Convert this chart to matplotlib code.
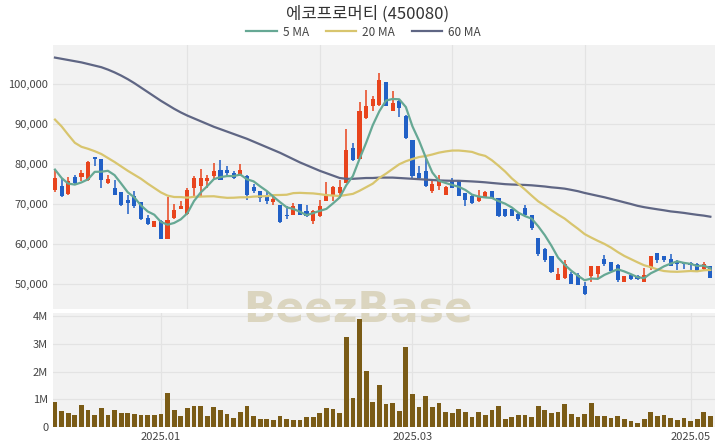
import numpy as np
import pandas as pd
import matplotlib
matplotlib.use("Agg")
import matplotlib.pyplot as plt
from matplotlib.lines import Line2D

plt.rcParams['font.family'] = ['Noto Sans CJK KR', 'DejaVu Sans']

title = "에코프로머티 (450080)"

# OHLC in thousands of won, one row per trading day (2024-12-06 .. 2025-05-08)
opens = [73.5, 74.4, 72.6, 76.7, 76.7, 76.1, 81.7, 81.2, 75.2, 74.0,
         72.9, 71.1, 71.9, 70.4, 66.5, 64.3, 65.7, 61.3, 66.5, 68.8,
         67.6, 74.0, 74.4, 75.7, 76.9, 78.6, 78.6, 77.8, 77.3, 77.1,
         74.2, 73.2, 72.3, 70.4, 69.7, 67.3, 67.3, 70.1, 68.2, 65.7,
         67.1, 70.7, 72.3, 72.7, 75.2, 84.0, 81.3, 91.5, 94.6, 94.8,
         100.4, 93.2, 95.7, 91.9, 86.1, 77.8, 78.2, 73.2, 74.4, 72.3,
         76.1, 75.7, 72.8, 71.9, 70.7, 71.8, 73.2, 71.5, 68.7, 68.7,
         67.5, 68.9, 67.3, 61.6, 58.7, 56.9, 50.9, 51.4, 52.5, 52.2,
         49.4, 51.9, 52.5, 56.2, 55.4, 54.7, 50.6, 52.2, 52.1, 50.6,
         53.9, 57.7, 56.9, 56.2, 55.6, 55.6, 55.2, 55.0, 53.7, 54.6]
highs = [78.7, 76.5, 76.7, 77.3, 78.6, 80.7, 81.8, 81.3, 77.3, 75.9,
         72.9, 72.3, 73.2, 70.4, 67.3, 65.7, 66.1, 71.8, 70.1, 70.7,
         74.0, 77.1, 78.8, 77.3, 80.3, 81.1, 79.4, 78.2, 80.1, 77.3,
         74.9, 73.2, 72.9, 71.8, 69.7, 69.4, 70.3, 70.1, 69.8, 68.6,
         71.1, 75.5, 74.4, 75.9, 88.7, 85.3, 95.4, 98.4, 97.1, 102.7,
         100.4, 98.2, 96.1, 92.3, 86.1, 79.4, 81.3, 75.7, 77.3, 74.4,
         76.5, 76.1, 72.8, 72.3, 73.6, 73.2, 73.2, 71.5, 68.8, 68.7,
         67.9, 69.7, 67.3, 61.6, 59.1, 56.9, 54.1, 56.1, 52.9, 52.7,
         50.6, 54.6, 54.6, 57.2, 55.4, 55.0, 51.9, 52.5, 52.2, 54.1,
         56.9, 57.7, 56.9, 57.5, 55.9, 55.6, 55.4, 55.2, 55.6, 54.6]
lows = [73.0, 71.8, 72.3, 75.0, 75.7, 75.7, 79.4, 74.0, 75.0, 72.3,
        69.4, 67.6, 69.0, 65.9, 64.7, 64.3, 61.3, 61.3, 66.3, 68.8,
        67.3, 71.9, 71.9, 74.0, 75.9, 75.9, 76.9, 76.3, 77.1, 70.9,
        72.7, 70.4, 70.1, 69.8, 65.3, 66.3, 67.3, 67.3, 66.7, 64.9,
        66.7, 70.7, 70.7, 71.5, 75.2, 80.7, 81.3, 91.3, 93.2, 94.4,
        94.4, 93.2, 91.7, 86.2, 76.5, 76.1, 74.3, 72.8, 73.6, 72.3,
        74.0, 72.1, 69.6, 70.1, 70.4, 71.5, 71.5, 66.7, 66.8, 67.0,
        65.8, 66.7, 63.6, 57.1, 55.4, 52.7, 50.9, 51.2, 50.0, 49.7,
        47.2, 50.6, 51.2, 54.6, 53.3, 50.6, 50.6, 51.1, 50.9, 50.6,
        53.6, 55.2, 55.6, 54.4, 53.6, 53.7, 53.1, 53.1, 53.3, 51.6]
closes = [76.5, 71.9, 75.7, 75.2, 77.7, 80.4, 81.2, 75.9, 76.3, 72.3,
          69.8, 70.3, 69.4, 66.3, 64.9, 65.7, 61.3, 65.9, 68.5, 69.4,
          73.4, 76.5, 76.5, 76.5, 78.2, 75.9, 77.8, 76.5, 78.4, 72.3,
          73.3, 71.5, 70.7, 71.3, 65.5, 66.9, 69.4, 67.3, 66.9, 68.2,
          69.6, 71.9, 74.2, 74.2, 83.6, 81.1, 93.2, 94.4, 96.2, 101.1,
          94.4, 95.2, 94.0, 86.5, 76.9, 76.5, 74.4, 75.1, 76.1, 74.2,
          74.0, 72.1, 71.1, 70.3, 71.8, 72.9, 71.5, 67.1, 67.1, 67.1,
          66.3, 67.3, 63.9, 57.5, 55.9, 53.1, 52.5, 55.0, 50.0, 49.7,
          47.5, 54.6, 54.6, 55.0, 53.3, 50.9, 51.9, 51.2, 51.2, 52.2,
          56.9, 55.9, 55.9, 54.6, 55.0, 55.0, 54.7, 53.3, 55.0, 51.6]
# volume in millions of shares
volumes = [0.89, 0.59, 0.52, 0.43, 0.78, 0.60, 0.45, 0.68, 0.43, 0.61,
           0.49, 0.49, 0.46, 0.43, 0.43, 0.43, 0.46, 1.23, 0.62, 0.40,
           0.70, 0.77, 0.77, 0.41, 0.73, 0.62, 0.48, 0.34, 0.55, 0.76,
           0.38, 0.30, 0.30, 0.27, 0.38, 0.30, 0.27, 0.26, 0.37, 0.37,
           0.51, 0.70, 0.65, 0.50, 3.24, 1.04, 3.91, 2.01, 0.91, 1.52,
           0.83, 0.88, 0.57, 2.87, 1.20, 0.71, 1.10, 0.71, 0.88, 0.54,
           0.52, 0.65, 0.55, 0.37, 0.54, 0.43, 0.61, 0.76, 0.29, 0.37,
           0.43, 0.44, 0.37, 0.76, 0.61, 0.52, 0.54, 0.83, 0.48, 0.37,
           0.48, 0.85, 0.39, 0.39, 0.32, 0.39, 0.28, 0.20, 0.15, 0.30,
           0.55, 0.41, 0.43, 0.34, 0.24, 0.32, 0.23, 0.29, 0.54, 0.39]

# moving-average values before enough days are on the chart
ma5_head = [78.6, 76.5, 75.1, 74.85]
ma20_head = [91.1, 89.4, 87.3, 85.3, 84.3, 83.8, 83.2, 82.5, 81.5, 80.5,
             79.4, 78.3, 77.3, 76.3, 75.1, 74.0, 72.9, 72.1, 71.75]
ma60_head = [106.6, 106.3, 106.0, 105.7, 105.4, 105.0, 104.6, 104.2, 103.6, 102.9,
             102.1, 101.2, 100.2, 99.1, 98.0, 96.9, 95.8, 94.8, 93.8, 92.9,
             92.1, 91.4, 90.7, 90.0, 89.3, 88.7, 88.1, 87.5, 86.9, 86.3,
             85.6, 84.9, 84.2, 83.5, 82.8, 82.0, 81.2, 80.4, 79.7, 79.0,
             78.3, 77.7, 77.1, 76.5, 76.3, 76.3, 76.4, 76.5, 76.5, 76.6,
             76.6, 76.6, 76.5, 76.4, 76.3, 76.2, 76.1, 76.0, 75.9]

tick_pos = [16, 54, 96]
tick_labels = ["2025.01", "2025.03", "2025.05"]

df = pd.DataFrame({"open": opens, "high": highs, "low": lows, "close": closes})
df[["open", "high", "low", "close"]] *= 1000
df["volume"] = np.array(volumes) * 1e6

def ma(n, head):
    s = df["close"].rolling(n).mean().to_numpy()
    s[:len(head)] = np.array(head) * 1000
    return s

ma5 = ma(5, ma5_head)
ma20 = ma(20, ma20_head)
ma60 = ma(60, ma60_head)

x = np.arange(len(df))
up = df["close"] >= df["open"]
RED, BLUE = "#E8441D", "#2160C6"
colors = np.where(up, RED, BLUE)

fig = plt.figure(figsize=(7.2, 4.48), dpi=100)
ax = fig.add_axes([53/720, 1-309/448, 662/720, 264/448])
axv = fig.add_axes([53/720, 1-427/448, 662/720, 114/448])

for a in (ax, axv):
    a.set_facecolor("#F2F2F2")
    for s in a.spines.values():
        s.set_visible(False)
    a.tick_params(length=0, labelsize=8, colors="#444444")
    a.set_xlim(-0.3, 99.7)
    # watermark sits behind the data, cut by the gap between the panels
    a.text(0.497, 1-310/448, "BeezBase", transform=fig.transFigure, ha="center", va="center",
           fontsize=30.5, fontweight="bold", color="#DBD5BF", family=["DejaVu Sans"],
           clip_on=True, zorder=0.6)

# price panel
ax.set_ylim(43750, 109750)
ax.set_yticks([50000, 60000, 70000, 80000, 90000, 100000])
ax.set_yticklabels([f"{v:,}" for v in [50000, 60000, 70000, 80000, 90000, 100000]])
ax.set_xticks([20, 40, 60, 80])
ax.set_xticklabels([])
ax.grid(True, color="#E3E3E3", lw=0.9)
ax.set_axisbelow(True)

body_lo = np.minimum(df["open"], df["close"])
body_h = np.maximum(np.abs(df["close"] - df["open"]), 150)
ax.vlines(x, df["low"], df["high"], colors=colors, lw=1.1, zorder=2)
ax.bar(x, body_h, bottom=body_lo, width=0.62, color=colors, zorder=3)

ax.plot(x, ma60, color="#5F6684", lw=1.6, zorder=4)
ax.plot(x, ma20, color="#D8C56E", lw=1.6, zorder=4)
ax.plot(x, ma5, color="#66A894", lw=1.6, zorder=4)

# volume panel
axv.bar(x, df["volume"], width=0.72, color="#7A5B16", zorder=3)
axv.set_ylim(0, 4.11e6)
axv.set_yticks([0, 1e6, 2e6, 3e6, 4e6])
axv.set_yticklabels(["0", "1M", "2M", "3M", "4M"])
axv.set_xticks(tick_pos)
axv.set_xticklabels(tick_labels)
axv.grid(True, color="#E3E3E3", lw=0.9)
axv.set_axisbelow(True)

fig.text(0.51, 1-14/448, title, ha="center", va="center", fontsize=12, color="#333333")

handles = [Line2D([], [], color="#66A894", lw=1.6),
           Line2D([], [], color="#D8C56E", lw=1.6),
           Line2D([], [], color="#5F6684", lw=1.6)]
fig.legend(handles, ["5 MA", "20 MA", "60 MA"], loc="center", bbox_to_anchor=(0.505, 1-32/448),
           ncol=3, frameon=False, fontsize=8.5, handlelength=2.6, handletextpad=0.5,
           columnspacing=1.4, labelcolor="#444444")

fig.savefig("out.png", dpi=100, facecolor="white")
